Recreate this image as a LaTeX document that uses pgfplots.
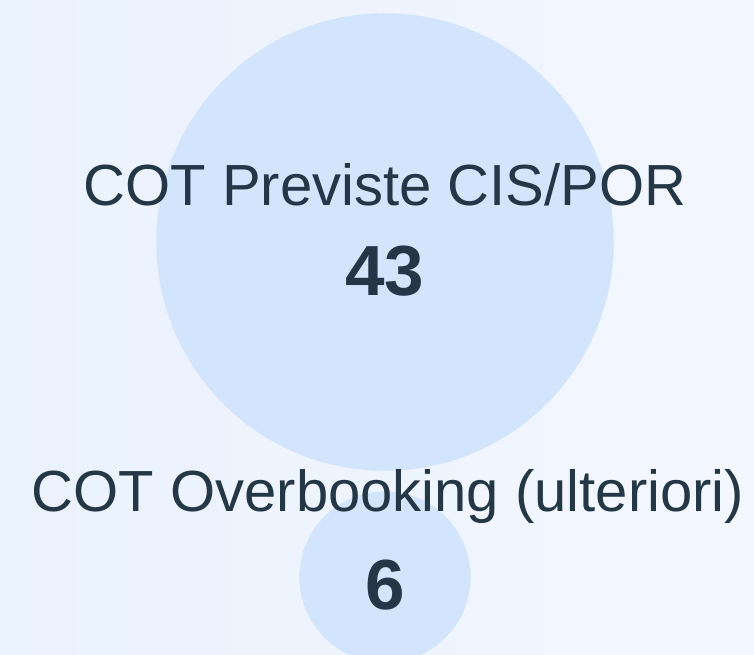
\documentclass[border=0pt]{standalone}
\usepackage{pgfplots}
\pgfplotsset{compat=1.18}
\usepackage{pgfplotstable}
\usepackage{fontspec}
\setmainfont{Liberation Sans}
\definecolor{bgA}{HTML}{EAF2FE}
\definecolor{bgB}{HTML}{F3F7FF}
\definecolor{bubble}{HTML}{D3E5FD}
\definecolor{txt}{HTML}{243746}
\pgfplotstableread{
x y v
385 242 43
385 577 6
}\bubbles
\begin{document}
\begin{tikzpicture}
\shade[left color=bgA, right color=bgB, use as bounding box] (0,0) rectangle (754pt,655pt);
\begin{axis}[
  at={(0,0)}, anchor=south west,
  scale only axis, width=754pt, height=655pt,
  xmin=0, xmax=754, ymin=0, ymax=655, y dir=reverse,
  hide axis, clip=true, clip marker paths=true,
]
\addplot[color=bubble, scatter, only marks, mark=*, point meta=explicit,
  mark options={draw=bubble, fill=bubble},
  visualization depends on={sqrt(\thisrow{v})*34.85 \as \r},
  scatter/use mapped color={draw=bubble, fill=bubble},
  scatter/@pre marker code/.append style={/tikz/mark size=\r pt},
] table[x=x, y=y, meta=v] {\bubbles};
\end{axis}
\node[text=txt, font=\fontsize{58}{60}\selectfont] at (385pt,470pt) {COT Previste CIS/POR};
\node[text=txt, font=\fontsize{71}{74}\selectfont\bfseries] at (385pt,384pt) {43};
\node[text=txt, font=\fontsize{58}{60}\selectfont] at (388pt,158pt) {COT Overbooking (ulteriori)};
\node[text=txt, font=\fontsize{71}{74}\selectfont\bfseries] at (385pt,70pt) {6};
\end{tikzpicture}
\end{document}
